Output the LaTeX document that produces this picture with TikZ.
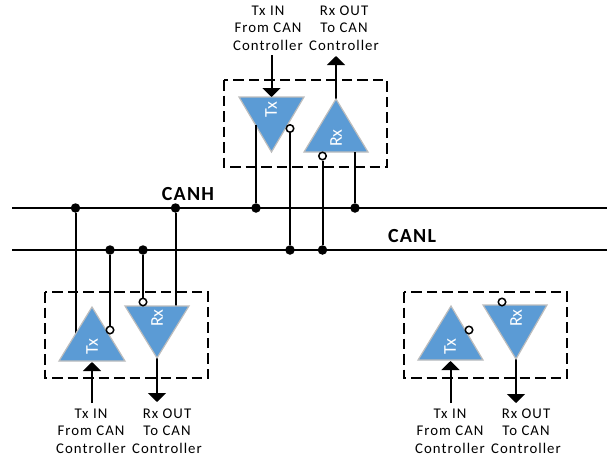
\documentclass[tikz,border=0pt]{standalone}
\usepackage{fontspec}
\setmainfont{Carlito}
\newfontfamily\lblfont[LetterSpace=7]{Carlito}
\newfontfamily\busfont[LetterSpace=6]{Carlito}
\usetikzlibrary{arrows.meta}
\definecolor{triblue}{HTML}{5B9BD5}
\definecolor{triedge}{HTML}{BDBDBD}
\tikzset{
  bus/.style={line width=1.4pt},
  wire/.style={line width=2pt},
  sig/.style={line width=2pt,-{Triangle[width=18pt,length=9pt]}},
  box/.style={line width=1.5pt,dash pattern=on 10.5pt off 5pt},
  tri/.style={fill=triblue,draw=triedge,line width=1.2pt,line join=miter},
  tritext/.style={text=white,rotate=90,font=\fontsize{18}{18}\selectfont,inner sep=0pt},
  dot/.style={circle,fill=black,inner sep=0pt,minimum size=9.5pt},
  bubble/.style={circle,draw=black,fill=white,line width=1.5pt,inner sep=0pt,minimum size=7.5pt},
  lbl/.style={align=center,font=\fontsize{14.8}{17.6}\lblfont,inner sep=0pt},
  buslbl/.style={font=\fontsize{20}{20}\busfont\bfseries,inner sep=0pt}
}
\begin{document}
\begin{tikzpicture}[x=1pt,y=-1pt]
\useasboundingbox (0,0) rectangle (607,458);
% buses
\coordinate (HL) at (12,208); \coordinate (HR) at (607,208);
\coordinate (LL) at (12,250); \coordinate (LR) at (607,250);
\draw[bus] (HL) -- (HR);
\draw[bus] (LL) -- (LR);
\node[buslbl] (canh) at (188,194) {CANH};
\node[buslbl] (canl) at (412,236) {CANL};
% boxes
\draw[box] (224,80) rectangle (387,167);
\draw[box] (45,292) rectangle (208,378);
\draw[box] (404,292) rectangle (567,378);
% top unit
\coordinate (tTxA) at (271.5,152); \coordinate (tTxIn) at (271.5,97);
\coordinate (tRxA) at (336,99); \coordinate (tRxB) at (355,152);
\coordinate (tTxW) at (256,125);
\coordinate (tIn) at (271.5,55); \coordinate (tOut) at (336,56);
\draw[sig] (tRxA) -- (tOut);
\draw[tri] (239,97) -- (304,97) -- (tTxA) -- cycle;
\draw[tri] (tRxA) -- (368,152) -- (304,152) -- cycle;
\draw[sig] (tIn) -- (tTxIn);
\node[tritext] (tTxT) at (271,110) {Tx};
\node[tritext] (tRxT) at (336,138) {Rx};
\node[dot] (d1) at (256,208) {};
\node[dot] (d2) at (355,208) {};
\node[dot] (d3) at (290,250) {};
\node[dot] (d4) at (322.5,250) {};
\node[bubble] (tB1) at (290,128.5) {};
\node[bubble] (tB2) at (322.5,156) {};
\draw[wire] (tTxW) -- (d1);
\draw[wire] (tRxB) -- (d2);
\draw[wire] (tB1) -- (d3);
\draw[wire] (tB2) -- (d4);
\node[lbl] (tL1) at (268,28) {Tx IN\\From CAN\\Controller};
\node[lbl] (tL2) at (344,28) {Rx OUT\\To CAN\\Controller};
% bottom-left unit
\coordinate (lTxA) at (92,307); \coordinate (lTxIn) at (92,362);
\coordinate (lRxA) at (157,358); \coordinate (lRxW) at (175.5,306);
\coordinate (lTxW) at (75.5,334);
\coordinate (lIn) at (92,403); \coordinate (lOut) at (157,402);
\node[dot] (d5) at (75.5,208) {};
\node[dot] (d6) at (175.5,208) {};
\node[dot] (d7) at (110,250) {};
\node[dot] (d8) at (143,250) {};
\draw[wire] (d5) -- (lTxW);
\draw[wire] (d6) -- (lRxW);
\draw[sig] (lRxA) -- (lOut);
\draw[tri] (lTxA) -- (125,361) -- (59,361) -- cycle;
\draw[tri] (125,306) -- (189,306) -- (lRxA) -- cycle;
\draw[sig] (lIn) -- (lTxIn);
\node[tritext] (lTxT) at (92,347) {Tx};
\node[tritext] (lRxT) at (157,318) {Rx};
\node[bubble] (lB1) at (110,330) {};
\node[bubble] (lB2) at (143,302) {};
\draw[wire] (d7) -- (lB1);
\draw[wire] (d8) -- (lB2);
\node[lbl] (lL1) at (91,431) {Tx IN\\From CAN\\Controller};
\node[lbl] (lL2) at (167,431) {Rx OUT\\To CAN\\Controller};
% bottom-right unit
\coordinate (rTxA) at (451,306); \coordinate (rTxIn) at (450.5,361);
\coordinate (rRxA) at (516,359);
\coordinate (rIn) at (450.5,403); \coordinate (rOut) at (516,403);
\draw[sig] (rRxA) -- (rOut);
\draw[tri] (rTxA) -- (483,360) -- (418,360) -- cycle;
\draw[tri] (483,305) -- (547,305) -- (rRxA) -- cycle;
\draw[sig] (rIn) -- (rTxIn);
\node[tritext] (rTxT) at (450,347) {Tx};
\node[tritext] (rRxT) at (516,318) {Rx};
\node[bubble] (rB1) at (469,330) {};
\node[bubble] (rB2) at (502,302) {};
\node[lbl] (rL1) at (450,431) {Tx IN\\From CAN\\Controller};
\node[lbl] (rL2) at (526,431) {Rx OUT\\To CAN\\Controller};
\end{tikzpicture}
\end{document}
